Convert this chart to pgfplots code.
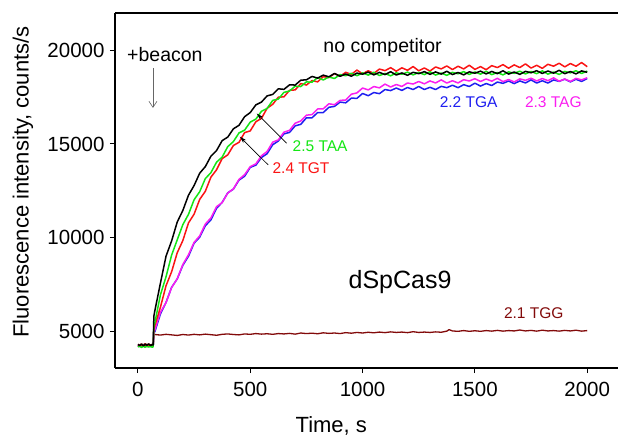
\documentclass[border=0pt]{standalone}
\usepackage{pgfplots}
\pgfplotsset{compat=1.18}
\usepackage{fontspec}
\setmainfont{Liberation Sans}
\usetikzlibrary{arrows.meta}
\definecolor{cgreen}{RGB}{20,230,20}
\definecolor{cred}{RGB}{250,20,20}
\definecolor{cblue}{RGB}{30,30,240}
\definecolor{cmag}{RGB}{250,30,240}
\definecolor{cdred}{RGB}{130,10,10}
\begin{document}
\begin{tikzpicture}
\begin{axis}[
  scale only axis, width=503pt, height=355pt,
  xmin=-102, xmax=2137, ymin=3030, ymax=22000,
  axis x line=box, axis y line=left,
  x axis line style={-}, y axis line style={-},
  axis line style={line width=1.1pt},
  xtick={0,500,1000,1500,2000}, ytick={5000,10000,15000,20000},
  xtick pos=bottom, ytick pos=left,
  tick align=outside, major tick length=5pt,
  tick style={line width=1pt, black},
  scaled ticks=false,
  /pgf/number format/1000 sep={},
  /pgf/number format/assume math mode=true,
  tick label style={font=\fontsize{20.5}{23}\selectfont},
  yticklabel style={xshift=-2pt},
  xticklabel style={yshift=-6pt},
  xlabel={Time, s}, ylabel={Fluorescence intensity, counts/s},
  label style={font=\fontsize{22}{24}\selectfont},
  xlabel style={at={(axis description cs:0.43,-0.163)}, anchor=center},
  ylabel style={at={(axis description cs:-0.183,0.524)}, anchor=center},
  every axis plot/.append style={no markers, line width=1.5pt, line join=round},
]
\coordinate (SW) at (rel axis cs:0,0);
\coordinate (NE) at (rel axis cs:1,1);
% 2.1 TGG
\addplot[color=cdred, line width=1.3pt] coordinates {(0,4300)(8,4260)(16,4320)(24,4270)(32,4330)(40,4280)(48,4310)(56,4260)(64,4300)(68,4280)(71,4850)(75,4820)(100,4790)(125,4830)(150,4800)(175,4770)(200,4820)(225,4790)(250,4830)(275,4800)(300,4840)(325,4810)(350,4780)(375,4830)(400,4850)(425,4820)(450,4800)(475,4850)(500,4830)(525,4870)(550,4840)(575,4860)(600,4830)(625,4870)(650,4850)(675,4880)(700,4840)(725,4900)(750,4870)(775,4890)(800,4860)(825,4910)(850,4880)(875,4900)(900,4870)(925,4920)(950,4890)(975,4930)(1000,4900)(1025,4940)(1050,4910)(1075,4950)(1100,4920)(1125,4960)(1150,4930)(1175,4950)(1200,4920)(1225,4970)(1250,4930)(1275,4950)(1300,4930)(1325,4960)(1350,4940)(1375,5000)(1385,5080)(1400,5010)(1425,4990)(1450,5030)(1475,4990)(1500,5020)(1525,4990)(1550,5030)(1575,5000)(1600,5040)(1625,5000)(1650,5030)(1675,5010)(1700,5060)(1725,5010)(1750,5040)(1775,5000)(1800,5050)(1825,5010)(1850,5030)(1875,5000)(1900,5040)(1925,5010)(1950,5050)(1975,5000)(2000,5030)};
% 2.2 TGA
\addplot[color=cblue] coordinates {(0,4220)(8,4180)(16,4240)(24,4190)(32,4230)(40,4200)(48,4250)(56,4180)(64,4230)(68,4200)(71,4950)(75,4950)(100,5910)(125,6530)(150,7340)(175,7790)(200,8520)(225,9000)(250,9700)(275,10020)(300,10630)(325,10950)(350,11560)(375,11880)(400,12390)(425,12590)(450,13070)(475,13280)(500,13750)(525,13870)(550,14280)(575,14480)(600,14960)(625,15160)(650,15540)(675,15620)(700,15970)(725,16050)(750,16400)(775,16400)(800,16680)(825,16680)(850,16960)(875,17010)(900,17240)(925,17200)(950,17450)(975,17440)(1000,17700)(1025,17580)(1050,17750)(1075,17690)(1100,17910)(1125,17855)(1150,17990)(1175,17865)(1200,18020)(1225,17910)(1250,18075)(1275,17910)(1300,18030)(1325,17910)(1350,18080)(1375,18010)(1400,18140)(1425,18010)(1450,18170)(1475,18075)(1500,18250)(1525,18095)(1550,18230)(1575,18125)(1600,18310)(1625,18242)(1650,18365)(1675,18227)(1700,18370)(1725,18262)(1750,18425)(1775,18257)(1800,18380)(1825,18256)(1850,18422)(1875,18348)(1900,18465)(1925,18321)(1950,18457)(1975,18343)(2000,18500)};
% 2.3 TAG
\addplot[color=cmag] coordinates {(0,4200)(8,4250)(16,4180)(24,4240)(32,4190)(40,4250)(48,4200)(56,4230)(64,4180)(68,4220)(71,5000)(75,5050)(100,6000)(125,6520)(150,7330)(175,7800)(200,8560)(225,9080)(250,9740)(275,10090)(300,10720)(325,11050)(350,11650)(375,11870)(400,12380)(425,12600)(450,13110)(475,13360)(500,13790)(525,13940)(550,14370)(575,14600)(600,15100)(625,15220)(650,15630)(675,15730)(700,16110)(725,16230)(750,16540)(775,16570)(800,16870)(825,16880)(850,17150)(875,17100)(900,17330)(925,17350)(950,17660)(975,17730)(1000,17990)(1025,17890)(1050,18070)(1075,18000)(1100,18200)(1125,18045)(1150,18180)(1175,18075)(1200,18260)(1225,18205)(1250,18340)(1275,18215)(1300,18370)(1325,18262)(1350,18425)(1375,18257)(1400,18380)(1425,18262)(1450,18435)(1475,18367)(1500,18490)(1525,18342)(1550,18475)(1575,18357)(1600,18510)(1625,18332)(1650,18445)(1675,18317)(1700,18480)(1725,18402)(1750,18515)(1775,18367)(1800,18500)(1825,18382)(1850,18535)(1875,18357)(1900,18470)(1925,18342)(1950,18505)(1975,18427)(2000,18540)};
% 2.4 TGT
\addplot[color=cred] coordinates {(0,4230)(8,4180)(16,4260)(24,4200)(32,4250)(40,4170)(48,4240)(56,4200)(64,4260)(68,4210)(71,5100)(75,5280)(100,6270)(125,7420)(150,8170)(175,9190)(200,9840)(225,10780)(250,11250)(275,12040)(300,12470)(325,13230)(350,13620)(375,14220)(400,14420)(425,14920)(450,15090)(475,15610)(500,15700)(525,16190)(550,16370)(575,16910)(600,17120)(625,17500)(650,17520)(675,17870)(700,17890)(725,18230)(750,18150)(775,18390)(800,18320)(825,18600)(850,18550)(875,18760)(900,18620)(925,18830)(950,18720)(975,18950)(1000,18750)(1025,18915)(1050,18770)(1075,19005)(1100,18920)(1125,19080)(1150,18890)(1175,19070)(1200,18940)(1225,19137)(1250,18914)(1275,19062)(1300,18899)(1325,19116)(1350,19013)(1375,19170)(1400,18978)(1425,19155)(1450,19012)(1475,19209)(1500,18986)(1525,19134)(1550,18971)(1575,19188)(1600,19085)(1625,19242)(1650,19050)(1675,19227)(1700,19084)(1725,19281)(1750,19058)(1775,19206)(1800,19043)(1825,19260)(1850,19157)(1875,19314)(1900,19122)(1925,19299)(1950,19156)(1975,19353)(2000,19130)};
% 2.5 TAA
\addplot[color=cgreen] coordinates {(0,4160)(8,4200)(16,4130)(24,4190)(32,4140)(40,4200)(48,4150)(56,4180)(64,4140)(68,4170)(71,5300)(75,5420)(100,6930)(125,7900)(150,9060)(175,9880)(200,10690)(225,11240)(250,12020)(275,12450)(300,13150)(325,13470)(350,14030)(375,14300)(400,14860)(425,15130)(450,15590)(475,15740)(500,16170)(525,16330)(550,16750)(575,16900)(600,17330)(625,17400)(650,17760)(675,17830)(700,18090)(725,18070)(750,18320)(775,18300)(800,18550)(825,18420)(850,18580)(875,18500)(900,18710)(925,18650)(950,18780)(975,18650)(1000,18800)(1025,18682)(1050,18835)(1075,18657)(1100,18770)(1125,18642)(1150,18805)(1175,18727)(1200,18840)(1225,18692)(1250,18825)(1275,18707)(1300,18860)(1325,18682)(1350,18795)(1375,18667)(1400,18830)(1425,18752)(1450,18865)(1475,18717)(1500,18850)(1525,18732)(1550,18885)(1575,18707)(1600,18820)(1625,18692)(1650,18855)(1675,18777)(1700,18890)(1725,18742)(1750,18875)(1775,18757)(1800,18910)(1825,18732)(1850,18845)(1875,18717)(1900,18880)(1925,18802)(1950,18915)(1975,18767)(2000,18900)};
% no competitor
\addplot[color=black] coordinates {(0,4280)(8,4240)(16,4300)(24,4220)(32,4290)(40,4250)(48,4310)(56,4230)(64,4280)(68,4260)(71,5800)(75,6070)(100,7550)(125,9000)(150,9820)(175,10830)(200,11450)(225,12260)(250,12780)(275,13440)(300,13790)(325,14350)(350,14650)(375,15180)(400,15370)(425,15810)(450,16000)(475,16460)(500,16680)(525,17090)(550,17240)(575,17570)(600,17650)(625,17950)(650,17920)(675,18160)(700,18150)(725,18410)(750,18430)(775,18610)(800,18520)(825,18680)(850,18590)(875,18770)(900,18620)(925,18740)(950,18620)(975,18790)(1000,18730)(1025,18840)(1050,18695)(1075,18827)(1100,18710)(1125,18862)(1150,18685)(1175,18797)(1200,18670)(1225,18832)(1250,18755)(1275,18867)(1300,18720)(1325,18852)(1350,18735)(1375,18887)(1400,18710)(1425,18822)(1450,18695)(1475,18857)(1500,18780)(1525,18892)(1550,18745)(1575,18877)(1600,18760)(1625,18912)(1650,18735)(1675,18847)(1700,18720)(1725,18882)(1750,18805)(1775,18917)(1800,18770)(1825,18902)(1850,18785)(1875,18937)(1900,18760)(1925,18872)(1950,18745)(1975,18907)(2000,18830)};
% annotations
\node[font=\fontsize{19.5}{22}\selectfont] at (axis cs:120,19770) {+beacon};
\draw[black!60, line width=0.6pt, -{Straight Barb[length=6pt,width=8pt]}] (axis cs:67,19070) -- (axis cs:67,16930);
\node[font=\fontsize{19.5}{22}\selectfont] at (axis cs:1089,20150) {no competitor};
\node[text=cgreen, font=\fontsize{15.5}{18}\selectfont] at (axis cs:811,14890) {2.5 TAA};
\draw[line width=0.7pt, -{Stealth[length=7pt,width=4pt]}] (axis cs:662,15040) -- (axis cs:529,16630);
\node[text=cred, font=\fontsize{15.5}{18}\selectfont] at (axis cs:726,13710) {2.4 TGT};
\draw[line width=0.7pt, -{Stealth[length=7pt,width=4pt]}] (axis cs:580,13880) -- (axis cs:454,15390);
\node[text=cblue, font=\fontsize{15.5}{18}\selectfont] at (axis cs:1472,17230) {2.2 TGA};
\node[text=cmag, font=\fontsize{15.5}{18}\selectfont] at (axis cs:1849,17250) {2.3 TAG};
\node[font=\fontsize{25}{28}\selectfont] at (axis cs:1167,7620) {dSpCas9};
\node[text=cdred, font=\fontsize{15.5}{18}\selectfont] at (axis cs:1762,5940) {2.1 TGG};
\end{axis}
\pgfresetboundingbox
\path ([xshift=-115pt,yshift=-71pt]SW) rectangle ([yshift=13pt]NE);
\end{tikzpicture}
\end{document}
